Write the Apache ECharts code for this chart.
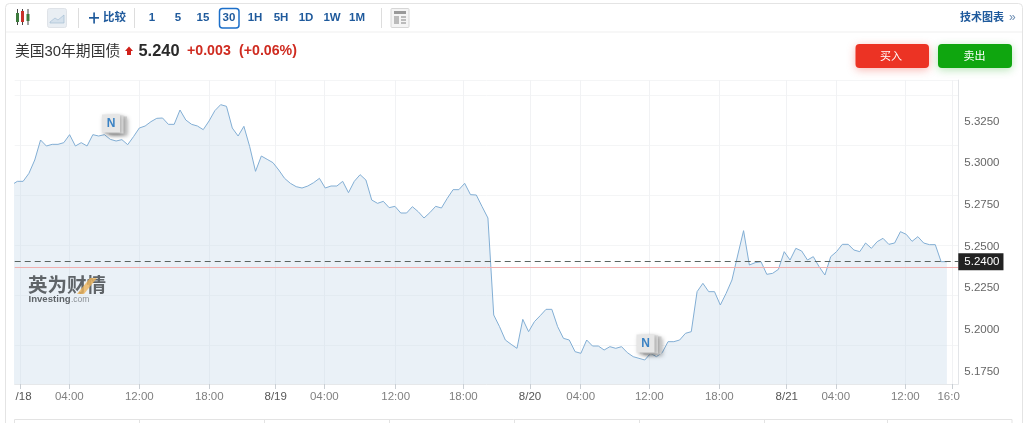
<!DOCTYPE html>
<html>
<head>
<meta charset="utf-8">
<style>html,body{margin:0;padding:0;background:#fff}#c{width:1024px;height:423px}</style>
<script src="https://cdn.jsdelivr.net/npm/echarts@6/dist/echarts.min.js"></script>
</head>
<body>
<div id="c"></div>
<script>
const prices = [5.286,5.2882,5.2882,5.293,5.301,5.313,5.3094,5.3104,5.3104,5.3114,5.3162,5.3094,5.3114,5.3094,5.3162,5.3154,5.3162,5.3134,5.3124,5.3132,5.3102,5.315,5.3202,5.3214,5.324,5.326,5.3262,5.3224,5.3224,5.331,5.325,5.3224,5.3214,5.3192,5.3244,5.3306,5.3342,5.3332,5.3202,5.3154,5.3212,5.309,5.2942,
5.3034,5.3014,5.2994,5.295,5.29,5.287,5.285,5.2842,5.2854,5.2874,5.29,5.2842,5.2854,5.2854,5.2882,5.2814,5.2882,5.2922,5.289,5.277,5.275,5.2762,5.2724,5.2732,5.2692,5.2692,5.273,5.27,5.2662,5.2694,5.2732,5.2722,5.278,5.2832,5.2832,5.287,5.2802,5.28,5.273,5.2662,
5.208,5.201,5.193,5.1904,5.188,5.2054,5.198,5.204,5.2076,5.2114,5.2114,5.201,5.194,5.193,5.186,5.185,5.193,5.1894,5.1894,5.187,5.189,5.188,5.189,5.1854,5.183,5.182,5.181,5.185,5.183,5.1854,5.192,5.192,5.193,
5.197,5.198,5.222,5.227,5.222,5.222,5.214,5.221,5.229,5.244,5.2586,5.238,5.2394,5.24,5.2324,5.233,5.2354,5.246,5.241,5.248,5.2464,5.241,5.243,5.237,5.232,5.243,5.246,5.2504,5.2504,5.247,5.246,5.2512,5.248,5.252,5.254,5.2504,5.2512,5.258,5.2564,5.2522,5.255,5.2512,5.2502,5.2502,5.24,5.24];
const tickSlots = [1.51,9.95,22,34.04,45.47,53.84,66.13,77.76,89.24,97.97,109.78,121.83,133.43,141.87,153.84,161.93];
const labelSlots = [2.07,9.95,22,34.04,45.47,53.84,66.13,77.76,89.24,97.97,109.78,121.83,133.43,141.87,153.84,161.3];
const labelTexts = ['/18','04:00','12:00','18:00','8/19','04:00','12:00','18:00','8/20','04:00','12:00','18:00','8/21','04:00','12:00','16:0'];
const priceTicks = [5.175,5.2,5.225,5.25,5.275,5.3,5.325];
const lastPrice = 5.24;
const prevClose = 5.2368;
const periods = ['1','5','15','30','1H','5H','1D','1W','1M'];

const BLUE = '#1f5a9c';
const CJK = '"Liberation Sans","Noto Sans CJK SC",sans-serif';
const points = prices.map((v, i) => [i, v]);

function txt(x, y, s, size, color, weight, align) {
  return {type:'text', z:20, silent:true, style:{x, y, text:s, fill:color, font:(weight||'normal')+' '+size+'px '+CJK, textAlign:align||'left', textVerticalAlign:'middle'}};
}
function box(x, y, w, h, st, r, z) {
  return {type:'rect', z:z||20, silent:true, shape:{x, y, width:w, height:h, r:r||0}, style:st};
}
function vline(x, y1, y2, c) {
  return {type:'line', z:20, silent:true, shape:{x1:x, y1, x2:x, y2}, style:{stroke:c, lineWidth:1}};
}
function hline(x1, x2, y, c) {
  return {type:'line', z:20, silent:true, shape:{x1, y1:y, x2, y2:y}, style:{stroke:c, lineWidth:1}};
}
function badge(x, y) {
  const sh = {shadowBlur:4, shadowColor:'rgba(0,0,0,0.25)', shadowOffsetX:1, shadowOffsetY:1};
  return [
    box(x+7, y+2, 18, 18, Object.assign({fill:'#d4d4d4'}, sh), 0, 21),
    box(x+3.5, y+1, 18, 18, Object.assign({fill:'#dedede'}, sh), 0, 22),
    box(x, y, 18, 18, Object.assign({fill:'#e6e6e6'}, sh), 0, 23),
    Object.assign(txt(x+9, y+9, 'N', 12, '#3a82c4', 'bold', 'center'), {z:24})
  ];
}

const g = [];
g.push(box(5.5, 3.5, 1017, 440, {fill:'none', stroke:'#e4e4e4', lineWidth:1}, 4, 1));
g.push(hline(6, 1022, 32, '#efefef'));
[[17.5,'#3c7a3c',13,9],[22.5,'#c9322b',11,11],[28,'#3c7a3c',14,7]].forEach(c => {
  g.push(vline(c[0], 9, 25, '#444'));
  g.push(box(c[0]-1.5, c[2], 3, c[3], {fill:c[1]}));
});
g.push(box(47.5, 8.5, 19, 19, {fill:'#e9eef3', stroke:'#dfe3e8', lineWidth:1}, 2));
g.push({type:'polygon', z:21, silent:true, shape:{points:[[50,22],[55,18],[58,20],[64,15],[64,23],[50,23]]}, style:{fill:'#d5e1ec', stroke:'#9db8d2', lineWidth:0.6}});
g.push(vline(78.5, 8, 28, '#dddddd'));
g.push(hline(89, 99, 17.5, BLUE), hline(89, 99, 18.2, BLUE), vline(93.8, 12.5, 23.5, BLUE), vline(94.4, 12.5, 23.5, BLUE));
g.push(txt(103, 18, '比较', 11.5, BLUE, 'bold'));
g.push(vline(134.5, 8, 28, '#dddddd'));
const periodX = [152,178,203,229,255,281,306,332,357];
periods.forEach((p, i) => g.push(txt(periodX[i], 18, p, 11.5, BLUE, 'bold', 'center')));
g.push(box(219.5, 8.5, 19.5, 19.5, {fill:'none', stroke:'#1c6fc9', lineWidth:1.5}, 3));
g.push(vline(381.5, 8, 28, '#dddddd'));
g.push(box(391, 8.5, 18, 19, {fill:'#f4f4f4', stroke:'#d6d6d6', lineWidth:1}, 1));
g.push(box(394, 11, 12, 3, {fill:'#999'}));
g.push(box(394, 16, 5, 8, {fill:'#bbb'}));
g.push(box(401, 16, 5, 2, {fill:'#bbb'}), box(401, 19, 5, 2, {fill:'#bbb'}), box(401, 22, 5, 2, {fill:'#bbb'}));
g.push(txt(960, 18, '技术图表', 11, BLUE, 'bold'));
g.push(txt(1009, 18, '»', 12, '#6d8db3', 'normal'));
g.push(txt(15, 51.5, '美国30年期国债', 14.8, '#333'));
g.push({type:'polygon', z:20, silent:true, shape:{points:[[125,51],[129,46.5],[133,51],[131,51],[131,55],[127,55],[127,51]]}, style:{fill:'#d0201a'}});
g.push(txt(138.5, 51.5, '5.240', 16.4, '#2a2a2a', 'bold'));
g.push(txt(187, 51.5, '+0.003', 14.2, '#cf2b20', '600'));
g.push(txt(239, 51.5, '(+0.06%)', 14.2, '#cf2b20', '600'));
g.push(box(855.5, 44, 73.5, 24, {fill:'#ec3324', shadowBlur:8, shadowColor:'rgba(236,51,36,0.35)', shadowOffsetY:2}, 4));
g.push(box(938, 44, 74, 24, {fill:'#0fa60f', shadowBlur:8, shadowColor:'rgba(15,166,15,0.3)', shadowOffsetY:2}, 4));
g.push(txt(891, 56.5, '买入', 11, '#fff', 'normal', 'center'));
g.push(txt(974.5, 56.5, '卖出', 11, '#fff', 'normal', 'center'));
g.push(txt(28, 286.5, '英为财情', 19.5, '#5f6468', 'bold'));
g.push({type:'polygon', z:21, silent:true, shape:{points:[[77,294],[90,278],[97,278],[84,294]]}, style:{fill:'rgba(238,180,90,0.8)'}});
g.push(txt(28.5, 299.5, 'Investing', 9.6, '#5f6468', 'bold'));
g.push(txt(71, 300, '.com', 8.5, '#8a8f94'));
g.push(...badge(102, 114.5), ...badge(636.5, 334.5));
g.push(hline(14.5, 1012, 419.5, '#e3e3e3'));
[14.5,139.5,264.5,389.5,514.5,639.5,764.5,887.5,1012].forEach(x => g.push(vline(x, 419.5, 423, '#e3e3e3')));

const chart = echarts.init(document.getElementById('c'), null, {renderer:'canvas'});
chart.setOption({
  animation:false,
  backgroundColor:'#fff',
  graphic:g,
  grid:{left:14.7, right:65.7, top:80, bottom:39, containLabel:false},
  xAxis:{
    type:'value', min:0.55, max:162.96,
    axisLine:{show:true, onZero:false, lineStyle:{color:'#e6e8ea'}},
    axisTick:{show:true, length:5, customValues:tickSlots, lineStyle:{color:'#c9ced3'}},
    splitLine:{show:true, customValues:tickSlots, lineStyle:{color:'#f1f2f4', width:1}},
    axisLabel:{
      customValues:labelSlots, margin:7, showMinLabel:true, showMaxLabel:true, hideOverlap:false,
      formatter:(v) => {
        const t = labelTexts[labelSlots.indexOf(v)];
        return t && t.indexOf('/') >= 0 ? '{d|' + t + '}' : '{t|' + t + '}';
      },
      rich:{
        d:{fontSize:11.5, color:'#555', fontFamily:'Liberation Sans'},
        t:{fontSize:11.5, color:'#808080', fontFamily:'Liberation Sans'}
      }
    }
  },
  yAxis:{
    type:'value', position:'right', min:5.1666, max:5.349, scale:true,
    axisLine:{show:true, lineStyle:{color:'#e3e5e8'}},
    axisTick:{show:false},
    splitLine:{show:true, customValues:priceTicks, lineStyle:{color:'#f4f5f6', width:1}},
    axisLabel:{
      customValues:priceTicks, margin:6,
      formatter:(v) => '{v|' + v.toFixed(4) + '}',
      rich:{v:{fontSize:11.5, color:'#666', fontFamily:'Liberation Sans', padding:[3,0,0,0]}}
    }
  },
  series:[{
    type:'line', data:points, symbol:'none', smooth:false, silent:true, z:2,
    lineStyle:{color:'#82aed4', width:1},
    areaStyle:{color:'rgba(200,217,235,0.54)', origin:'start'},
    markLine:{
      silent:true, symbol:'none', animation:false, precision:4,
      lineStyle:{color:'#5a6561', type:[6,4], width:1.2},
      data:[
        {yAxis:lastPrice,
         label:{show:true, position:'end', distance:0, formatter:lastPrice.toFixed(4), color:'#fff', fontSize:11.5, fontFamily:'Liberation Sans', backgroundColor:'#222', padding:[2.5,4,2.5,6]}}
      ]
    }
  },{
    type:'line', data:[], symbol:'none', silent:true, z:3,
    markLine:{
      silent:true, symbol:'none', animation:false, precision:4,
      lineStyle:{color:'#f0b0b0', type:'solid', width:1, opacity:1},
      label:{show:false},
      data:[{yAxis:prevClose}]
    }
  }]
});
</script>
</body>
</html>
